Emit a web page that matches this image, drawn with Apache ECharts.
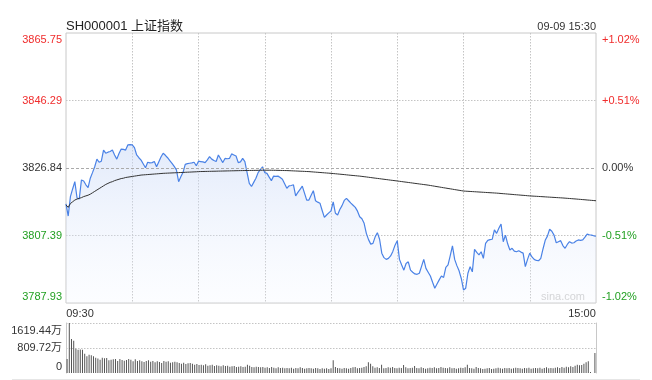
<!DOCTYPE html>
<html>
<head>
<meta charset="utf-8">
<script src="https://cdn.jsdelivr.net/npm/echarts@6/dist/echarts.min.js"></script>
<style>
html,body{margin:0;padding:0;background:#fff;}
#c{width:652px;height:380px;}
</style>
</head>
<body>
<div id="c"></div>
<script>
var FONT = "'Liberation Sans', Arial, 'Noto Sans CJK SC', sans-serif";

var title = 'SH000001 上证指数';
var stamp = '09-09 15:30';
var prevClose = 3826.84;
var priceMin = 3787.93;
var priceMax = 3865.75;
var priceLabels = ['3787.93', '3807.39', '3826.84', '3846.29', '3865.75'];
var pctLabels = ['-1.02%', '-0.51%', '0.00%', '+0.51%', '+1.02%'];
var volMax = 1619.44;
var volLabels = ['0', '809.72万', '1619.44万'];

var price = [
3816.5,3813.0,3818.6,3820.8,3822.9,3818.2,3817.9,3823.4,3823.1,3822.0,
3821.2,3823.9,3825.5,3827.2,3829.4,3828.5,3828.8,3832.0,3831.1,3831.4,
3831.6,3832.0,3830.6,3829.4,3831.0,3832.3,3832.2,3832.0,3833.5,3833.6,
3833.5,3832.7,3830.6,3829.8,3829.1,3828.0,3826.9,3828.5,3828.3,3828.4,
3828.7,3827.2,3828.6,3830.0,3831.1,3830.5,3829.8,3829.0,3828.2,3827.3,
3826.3,3822.9,3824.3,3825.6,3827.9,3828.1,3828.2,3828.3,3828.5,3827.5,
3828.8,3828.7,3828.6,3828.4,3829.2,3830.1,3829.4,3829.0,3828.7,3830.6,
3829.5,3828.4,3829.6,3829.5,3829.6,3830.9,3830.6,3830.3,3828.4,3828.6,
3829.6,3828.7,3825.5,3822.4,3821.5,3822.7,3823.9,3825.5,3826.4,3827.2,
3825.5,3825.3,3824.2,3823.2,3824.5,3824.4,3824.5,3824.1,3823.6,3822.3,
3821.0,3821.7,3821.8,3822.0,3818.8,3819.8,3820.7,3821.6,3819.6,3817.6,
3817.6,3819.0,3820.3,3817.4,3817.0,3816.7,3814.6,3812.6,3813.3,3813.9,
3814.5,3817.1,3813.8,3813.3,3814.9,3816.0,3817.5,3818.1,3817.4,3816.7,
3816.1,3815.5,3814.4,3812.8,3812.2,3810.9,3808.0,3806.2,3804.9,3805.1,
3807.0,3808.2,3806.3,3802.3,3801.0,3800.5,3800.8,3801.5,3802.8,3804.6,
3805.9,3800.5,3798.9,3797.4,3799.3,3799.8,3797.4,3796.8,3796.3,3796.2,
3796.5,3798.5,3800.5,3797.9,3796.8,3795.7,3793.9,3792.2,3793.4,3794.6,
3795.7,3795.3,3798.2,3798.9,3801.6,3804.4,3800.5,3798.7,3797.2,3795.0,
3791.7,3792.2,3796.5,3798.4,3796.9,3803.4,3802.5,3801.8,3802.7,3800.8,
3805.1,3806.0,3806.2,3806.3,3809.0,3808.0,3809.5,3810.7,3805.6,3807.5,
3805.0,3803.2,3803.7,3802.9,3802.7,3803.0,3802.6,3802.3,3798.4,3800.5,
3802.3,3801.2,3800.5,3800.2,3800.1,3800.8,3803.5,3806.0,3807.2,3809.2,
3808.6,3807.5,3805.3,3805.6,3805.9,3804.5,3803.7,3804.8,3805.6,3805.2,
3805.3,3805.8,3806.1,3806.0,3806.1,3806.9,3807.8,3807.6,3807.5,3807.3,
3807.2
];

var avgPrice = [
3816.2,3815.5,3816.6,3817.1,3817.6,3817.9,3818.1,3818.3,3818.6,3818.8,
3819.0,3819.3,3819.7,3820.1,3820.5,3820.9,3821.3,3821.7,3822.1,3822.4,
3822.7,3822.9,3823.2,3823.4,3823.6,3823.8,3823.9,3824.1,3824.2,3824.3,
3824.4,3824.5,3824.6,3824.7,3824.8,3824.85,3824.9,3824.95,3825.0,3825.05,
3825.1,3825.15,3825.2,3825.25,3825.3,3825.33,3825.36,3825.39,3825.42,3825.45,
3825.48,3825.51,3825.54,3825.57,3825.6,3825.63,3825.66,3825.69,3825.72,3825.75,
3825.8,3825.82,3825.83,3825.85,3825.86,3825.88,3825.89,3825.91,3825.92,3825.94,
3825.95,3825.97,3825.98,3826.0,3826.01,3826.03,3826.04,3826.06,3826.07,3826.09,
3826.1,3826.11,3826.12,3826.13,3826.14,3826.15,3826.16,3826.17,3826.18,3826.19,
3826.2,3826.2,3826.2,3826.19,3826.18,3826.17,3826.16,3826.14,3826.12,3826.11,
3826.1,3826.07,3826.04,3826.01,3825.98,3825.95,3825.92,3825.89,3825.86,3825.83,
3825.8,3825.75,3825.7,3825.65,3825.6,3825.55,3825.5,3825.45,3825.4,3825.35,
3825.3,3825.24,3825.18,3825.12,3825.06,3825.0,3824.94,3824.87,3824.8,3824.74,
3824.68,3824.62,3824.56,3824.5,3824.42,3824.34,3824.26,3824.17,3824.09,3824.0,
3823.92,3823.84,3823.76,3823.67,3823.59,3823.51,3823.43,3823.34,3823.26,3823.18,
3823.1,3823.01,3822.93,3822.84,3822.76,3822.67,3822.59,3822.5,3822.41,3822.33,
3822.24,3822.16,3822.07,3821.99,3821.9,3821.8,3821.69,3821.58,3821.47,3821.37,
3821.26,3821.15,3821.05,3820.94,3820.84,3820.73,3820.62,3820.52,3820.41,3820.31,
3820.2,3820.16,3820.12,3820.08,3820.04,3820.0,3819.96,3819.92,3819.88,3819.84,
3819.8,3819.76,3819.72,3819.68,3819.64,3819.6,3819.55,3819.49,3819.44,3819.39,
3819.33,3819.28,3819.23,3819.17,3819.12,3819.07,3819.01,3818.96,3818.91,3818.85,
3818.8,3818.76,3818.72,3818.68,3818.64,3818.6,3818.56,3818.52,3818.48,3818.44,
3818.4,3818.36,3818.32,3818.28,3818.24,3818.2,3818.15,3818.1,3818.05,3818.0,
3817.95,3817.9,3817.84,3817.79,3817.73,3817.68,3817.62,3817.57,3817.51,3817.46,
3817.4
];

// volume, in 万
var volume = [
454,1619,1101,1047,788,756,760,750,626,540,
594,575,540,497,470,432,497,475,486,410,
432,445,454,389,454,421,400,421,454,432,
378,443,389,410,378,356,389,410,367,389,
345,378,356,324,389,367,378,335,345,367,
345,324,302,335,291,313,324,302,270,291,
259,270,248,280,237,248,270,226,248,237,
216,248,226,237,205,216,226,194,205,216,
194,205,270,237,194,183,205,194,183,194,
172,183,162,194,172,151,183,162,172,151,
162,151,172,140,162,151,183,162,140,151,
162,151,140,162,151,130,151,140,151,129,
151,410,194,162,151,140,162,151,140,162,
183,194,151,162,172,194,216,345,302,216,
172,183,162,270,151,162,183,172,194,162,
151,172,162,259,183,151,162,172,226,162,
151,183,162,140,151,172,162,183,151,162,
194,172,162,151,183,151,162,140,151,172,
162,183,270,162,151,140,194,162,151,130,
140,151,162,130,140,151,172,151,140,162,
151,162,140,151,172,162,151,140,162,151,
172,140,151,162,151,172,140,162,183,151,
162,151,172,183,162,194,172,205,183,216,
194,237,270,248,259,302,345,378,30,0,
648
];

// minute categories: 09:30-11:30, 13:01-15:00
var times = [];
function pad(n){return (n<10?'0':'')+n;}
for (var m = 9*60+30; m <= 11*60+30; m++) times.push(pad(Math.floor(m/60))+':'+pad(m%60));
for (var m2 = 13*60+1; m2 <= 15*60; m2++) times.push(pad(Math.floor(m2/60))+':'+pad(m2%60));

var RED = '#f02c2c', GREEN = '#22a022', DARK = '#333';
var PAD = 13;
var richY = {
  rt: {color: RED, fontSize: 11, fontFamily: FONT, padding: [PAD,0,0,0]},
  r:  {color: RED, fontSize: 11, fontFamily: FONT},
  n:  {color: DARK, fontSize: 11, fontFamily: FONT},
  g:  {color: GREEN, fontSize: 11, fontFamily: FONT},
  gb: {color: GREEN, fontSize: 11, fontFamily: FONT, padding: [0,0,PAD,0]},
  nt: {color: DARK, fontSize: 11, fontFamily: FONT, padding: [15,0,0,0]},
  nb: {color: DARK, fontSize: 11, fontFamily: FONT, padding: [0,0,12,0]}
};
var styleIdx = ['gb','g','n','r','rt'];

var chart = echarts.init(document.getElementById('c'), null, {renderer: 'canvas'});
chart.setOption({
  animation: false,
  backgroundColor: '#fff',
  textStyle: {fontFamily: FONT},
  title: [
    {text: title, left: 66, top: 20, padding: 0,
     textStyle: {fontSize: 13, fontWeight: 'normal', color: '#222', fontFamily: FONT}},
    {text: stamp, right: 56, top: 21, padding: 0,
     textStyle: {fontSize: 11, fontWeight: 'normal', color: '#333', fontFamily: FONT}}
  ],
  grid: [
    {left: 66, top: 33, width: 530, height: 270, show: true, borderColor: '#c8c8c8', borderWidth: 1, backgroundColor: 'transparent'},
    {left: 66, top: 323, width: 530, height: 50}
  ],
  xAxis: [
    {type: 'category', gridIndex: 0, data: times, boundaryGap: false,
     axisLine: {show: false}, axisTick: {show: false},
     axisLabel: {
       interval: function(i){ return i === 0 || i === times.length - 1; },
       margin: 5,
       formatter: function(v, i){ return i === 0 ? '{l|' + v + '}' : '{r|' + v + '}'; },
       rich: {
         l: {color: DARK, fontSize: 11, fontFamily: FONT, padding: [0,0,0,28]},
         r: {color: DARK, fontSize: 11, fontFamily: FONT, padding: [0,28,0,0]}
       }
     },
     splitLine: {show: true, interval: function(i){ return i % 30 === 0 && i !== 0 && i !== times.length - 1; },
       lineStyle: {color: '#c4c4c4', type: [1.5, 1.5], width: 1}}
    },
    {type: 'category', gridIndex: 1, data: times, boundaryGap: true,
     axisLine: {show: false}, axisTick: {show: false}, axisLabel: {show: false}, splitLine: {show: false}}
  ],
  yAxis: [
    {type: 'value', gridIndex: 0, min: priceMin, max: priceMax, show: false, splitLine: {show: false}},
    {type: 'value', gridIndex: 0, min: 0, max: 4, interval: 1, position: 'left',
     axisLine: {show: false}, axisTick: {show: false},
     axisLabel: {margin: 4, formatter: function(v){ return '{' + styleIdx[v] + '|' + priceLabels[v] + '}'; }, rich: richY},
     splitLine: {show: true, lineStyle: {color: ['transparent','#c4c4c4','transparent','#c4c4c4','transparent'], type: [1.5, 1.5]}}},
    {type: 'value', gridIndex: 0, min: 0, max: 4, interval: 1, position: 'right',
     axisLine: {show: false}, axisTick: {show: false},
     axisLabel: {margin: 6, formatter: function(v){ return '{' + styleIdx[v] + '|' + pctLabels[v] + '}'; }, rich: richY},
     splitLine: {show: false}},
    {type: 'value', gridIndex: 1, min: 0, max: volMax, interval: volMax / 2, position: 'left',
     axisLine: {show: true, lineStyle: {color: '#c8c8c8'}}, axisTick: {show: false},
     axisLabel: {margin: 4, formatter: function(v, i){ var k = Math.round(v / (volMax / 2)); return '{' + ['nb','n','nt'][k] + '|' + volLabels[k] + '}'; }, rich: richY},
     splitLine: {show: true, lineStyle: {color: ['transparent','#c4c4c4','#c4c4c4'], type: [1.5, 1.5]}}},
    {type: 'value', gridIndex: 1, min: 0, max: volMax, position: 'right',
     axisLine: {show: true, lineStyle: {color: '#c8c8c8'}}, axisTick: {show: false},
     axisLabel: {show: false}, splitLine: {show: false}}
  ],
  series: [
    {type: 'line', name: 'price', xAxisIndex: 0, yAxisIndex: 0, data: price,
     symbol: 'none', smooth: false,
     lineStyle: {color: '#4a82e6', width: 1.2},
     areaStyle: {origin: 'start', color: new echarts.graphic.LinearGradient(0, 0, 0, 1, [
       {offset: 0, color: 'rgba(196,213,246,0.7)'},
       {offset: 1, color: 'rgba(238,243,255,0.25)'}
     ])},
     markLine: {silent: true, symbol: 'none', label: {show: false},
       lineStyle: {color: '#aaa', type: [3, 2], width: 1},
       data: [{yAxis: prevClose}]},
     z: 3},
    {type: 'line', name: 'avg', xAxisIndex: 0, yAxisIndex: 0, data: avgPrice,
     symbol: 'none', lineStyle: {color: '#333', width: 1}, z: 4},
    {type: 'bar', name: 'vol', xAxisIndex: 1, yAxisIndex: 3, data: volume,
     barWidth: 1, itemStyle: {color: '#555'}}
  ],
  graphic: [
    {type: 'text', style: {text: 'sina.com', x: 585, y: 297, align: 'right', verticalAlign: 'middle',
      fill: '#cfcfcf', fontSize: 11, fontFamily: FONT}},
    {type: 'line', shape: {x1: 12, y1: 379.5, x2: 640, y2: 379.5}, style: {stroke: '#e6e6e6', lineWidth: 1}}
  ]
});
</script>
</body>
</html>
